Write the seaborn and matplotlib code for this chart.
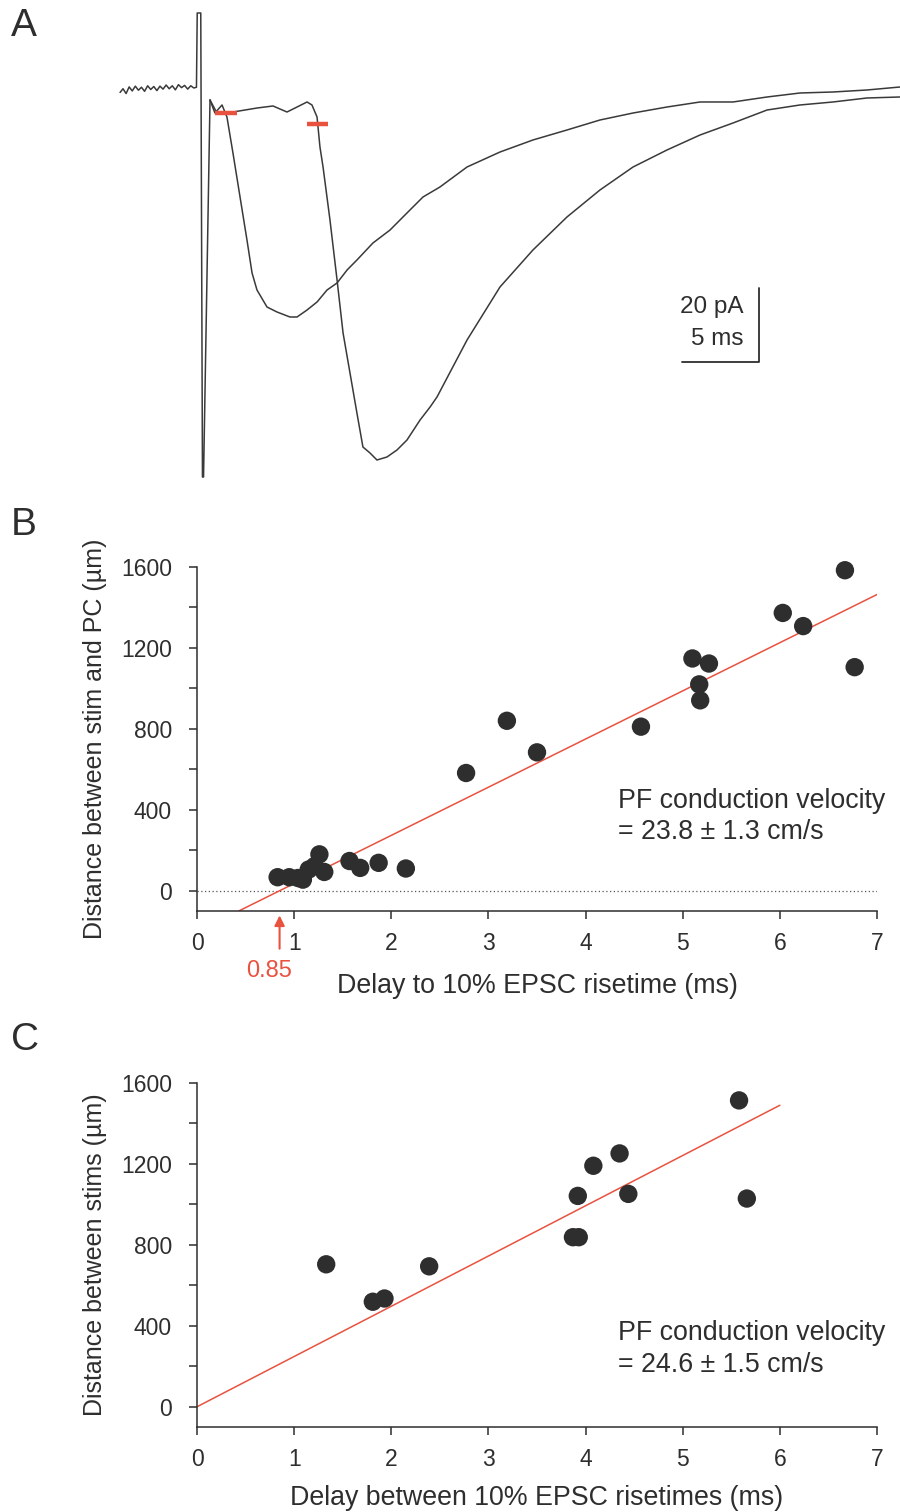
import numpy as np
import pandas as pd
import matplotlib
matplotlib.use("Agg")
import matplotlib.pyplot as plt
import seaborn as sns

sns.set_style("ticks")
plt.rcParams["font.family"] = ["Liberation Sans", "DejaVu Sans"]

INK = "#2e2e2e"
RED = "#e8523f"
TRACE = "#3a3a3a"

# ---- panel A: two example EPSC traces (time in ms, current in pA) ----
pre_t = [-5.19, -5.0, -4.8, -4.6, -4.4, -4.2, -4.0, -3.8, -3.6, -3.4, -3.2, -3.0, -2.8,
         -2.6, -2.4, -2.2, -2.0, -1.8, -1.6, -1.4, -1.2, -1.0, -0.8, -0.6, -0.4, -0.23]
pre_i = [-1.2, -0.2, -1.5, 0.3, -0.8, 0.5, -0.6, 0.2, -0.9, 0.6, -0.4, 0.4, -0.7, 0.5,
         -0.3, 0.8, -0.2, 0.6, -0.5, 0.9, 0.1, 0.7, -0.3, 0.6, 0.0, 0.2]
artifact_t = [-0.18, 0.05, 0.16, 0.23, 0.65]
artifact_i = [20.27, 20.27, -105.14, -105.14, -3.24]

early_t = [0.65, 0.97, 1.43, 1.75, 2.14, 2.60, 3.05, 3.38, 3.70, 4.35, 5.0, 5.84, 6.30,
           6.95, 7.60, 8.25, 8.90, 9.55, 10.19, 11.23, 12.34, 13.44, 14.48, 15.58, 17.34,
           19.48, 21.62, 23.83, 25.97, 28.12, 30.32, 32.47, 34.61, 36.82, 38.96, 41.10,
           43.31, 45.45]
early_i = [-3.24, -6.76, -4.59, -7.84, -17.57, -29.46, -41.08, -50.0, -54.59, -59.19,
           -60.54, -61.89, -61.89, -60.0, -57.84, -54.59, -52.70, -49.19, -46.49, -41.89,
           -38.38, -33.78, -29.46, -26.76, -21.35, -17.30, -14.05, -11.35, -8.65, -6.76,
           -5.14, -3.78, -3.78, -2.43, -1.35, -1.08, -0.54, 0.27]

late_t = [0.65, 1.10, 2.14, 3.70, 4.74, 5.65, 6.30, 6.95, 7.27, 7.60, 7.79, 7.99, 8.44,
          8.90, 9.29, 9.74, 10.19, 10.58, 11.04, 11.49, 12.14, 12.79, 13.44, 14.29, 14.94,
          15.39, 17.34, 19.48, 21.62, 23.83, 25.97, 28.12, 30.32, 32.47, 34.61, 36.82,
          38.96, 41.10, 43.31, 45.45]
late_i = [-3.24, -6.76, -6.49, -5.41, -4.86, -6.49, -5.14, -3.78, -4.59, -7.84, -15.95,
          -21.35, -35.68, -51.89, -66.22, -77.03, -87.84, -97.03, -98.65, -100.54, -99.73,
          -97.84, -95.14, -89.73, -86.22, -83.51, -68.11, -53.78, -43.78, -34.86, -27.57,
          -21.35, -16.76, -12.70, -9.46, -5.95, -4.59, -3.78, -2.70, -2.43]

onset_bars_t = [[0.97, 2.40], [6.95, 8.31]]
onset_bars_i = [-6.8, -9.7]

# ---- panel B: distance stim-PC vs delay ----
b_delay = [0.83, 0.95, 1.04, 1.09, 1.15, 1.21, 1.26, 1.31, 1.57, 1.68, 1.87, 2.15,
           2.77, 3.19, 3.50, 4.57, 5.10, 5.27, 5.17, 5.18, 6.03, 6.24, 6.67, 6.77]
b_dist = [67, 67, 63, 55, 105, 122, 180, 93, 147, 113, 138, 110,
          582, 840, 684, 811, 1148, 1123, 1020, 941, 1373, 1308, 1584, 1105]
b_fit_x = [0.43, 7.0]
b_fit_y = [-100, 1464]
b_xint = 0.85

# ---- panel C: distance between stims vs delay difference ----
c_delay = [1.33, 1.81, 1.93, 2.39, 3.87, 3.93, 3.92, 4.08, 4.35, 4.44, 5.58, 5.66]
c_dist = [704, 519, 535, 694, 838, 838, 1042, 1191, 1252, 1052, 1514, 1029]
c_fit_x = [0.0, 6.0]
c_fit_y = [0, 1490]

W, H = 900, 1512
fig = plt.figure(figsize=(W / 100, H / 100), dpi=100)

# panel A
axA = fig.add_axes([0, 1 - 490 / H, 1, 490 / H])
pre = pd.DataFrame({"t": pre_t + artifact_t, "i": pre_i + artifact_i})
early = pd.DataFrame({"t": early_t, "i": early_i})
late = pd.DataFrame({"t": late_t, "i": late_i})
for d in (pre, early, late):
    sns.lineplot(data=d, x="t", y="i", ax=axA, color=TRACE, lw=1.1,
                 estimator=None, sort=False)
for (t0, t1), iv in zip(onset_bars_t, onset_bars_i):
    axA.plot([t0, t1], [iv, iv], color=RED, lw=3.2, solid_capstyle="butt", zorder=4)
axA.set_xlim(-200 / 15.4, 700 / 15.4)
axA.set_ylim((88 - 490) / 3.7, 88 / 3.7)
axA.axis("off")

# scale bar 20 pA / 5 ms
sb_t, sb_top = 36.3, -54.05
axA.plot([sb_t - 5, sb_t, sb_t], [sb_top - 20, sb_top - 20, sb_top], color=INK, lw=1.3)
axA.text(sb_t - 1.0, -59.2, "20 pA", ha="right", va="center", fontsize=17.5, color=INK)
axA.text(sb_t - 1.0, -67.8, "5 ms", ha="right", va="center", fontsize=17.5, color=INK)


def style_axes(ax):
    ax.set_xlim(0, 7)
    ax.set_ylim(-100, 1600)
    ax.set_xticks(range(0, 8))
    ax.set_yticks([0, 400, 800, 1200, 1600])
    ax.set_yticks(range(0, 1601, 200), minor=True)
    sns.despine(ax=ax)
    for s in ("left", "bottom"):
        ax.spines[s].set_linewidth(1.1)
        ax.spines[s].set_color(INK)
    ax.tick_params(which="both", direction="out", length=6, width=1.1, color=INK,
                   labelsize=16.5, labelcolor=INK)
    ax.tick_params(axis="y", pad=12)
    ax.tick_params(axis="x", pad=9)


# panel B
axB = fig.add_axes([197 / W, 1 - 911 / H, 680 / W, 344 / H])
sns.scatterplot(x=b_delay, y=b_dist, ax=axB, s=175, color=INK, edgecolor="none",
                zorder=3, clip_on=False)
axB.plot(b_fit_x, b_fit_y, color=RED, lw=1.1, zorder=2)
axB.plot([0, 7], [0, 0], color="#555555", lw=0.9, ls=(0, (1, 2)), zorder=1)
style_axes(axB)
axB.set_xlabel("Delay to 10% EPSC risetime (ms)", fontsize=19.3, color=INK, labelpad=13)
axB.set_ylabel("Distance between stim and PC (\u00b5m)", fontsize=18, color=INK, labelpad=10)
axB.annotate("", xy=(b_xint, -108), xytext=(b_xint, -300), xycoords="data",
             annotation_clip=False,
             arrowprops=dict(arrowstyle="-|>,head_width=0.3,head_length=0.6",
                             color=RED, lw=1.5))
axB.text(0.74, -395, "0.85", ha="center", va="center", fontsize=17, color=RED, clip_on=False)
axB.text(4.33, 444, "PF conduction velocity", fontsize=19.3, color=INK, va="center")
axB.text(4.33, 291, "= 23.8 \u00b1 1.3 cm/s", fontsize=19.3, color=INK, va="center")

# panel C
axC = fig.add_axes([197 / W, 1 - 1427 / H, 680 / W, 344 / H])
sns.scatterplot(x=c_delay, y=c_dist, ax=axC, s=175, color=INK, edgecolor="none",
                zorder=3, clip_on=False)
axC.plot(c_fit_x, c_fit_y, color=RED, lw=1.1, zorder=2)
style_axes(axC)
axC.set_xlabel("Delay between 10% EPSC risetimes (ms)", fontsize=19.3, color=INK, labelpad=10)
axC.set_ylabel("Distance between stims (\u00b5m)", fontsize=18, color=INK, labelpad=10)
axC.text(4.33, 365, "PF conduction velocity", fontsize=19.3, color=INK, va="center")
axC.text(4.33, 207, "= 24.6 \u00b1 1.5 cm/s", fontsize=19.3, color=INK, va="center")

for lab, yp in (("A", 26), ("B", 525), ("C", 1040)):
    fig.text(11 / W, 1 - yp / H, lab, fontsize=28, color=INK, va="center", ha="left")

fig.savefig("out.png", dpi=100, facecolor="white")
